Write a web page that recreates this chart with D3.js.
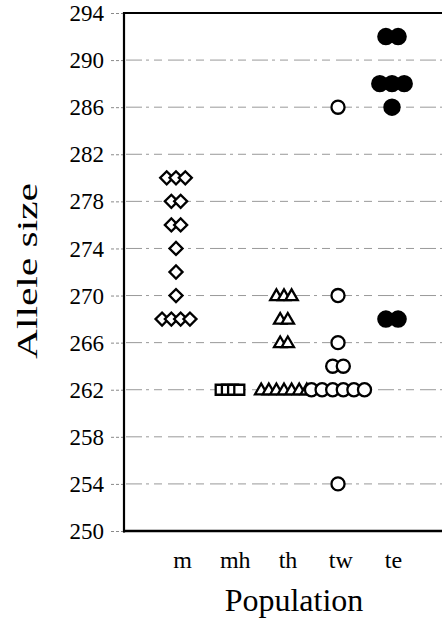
<!DOCTYPE html>
<html>
<head>
<meta charset="utf-8">
<script src="https://cdn.jsdelivr.net/npm/d3@7"></script>
<style>
  html, body { margin: 0; padding: 0; background: #fff; }
  svg { display: block; }
</style>
</head>
<body>
<svg id="chart" width="442" height="618"></svg>
<script>
// ---- data ----
const populations = ["m", "mh", "th", "tw", "te"];
const yTicks = [250, 254, 258, 262, 266, 270, 274, 278, 282, 286, 290, 294];
const gridValues = [254, 258, 262, 266, 270, 274, 278, 282, 286, 290];
const alleles_m  = [280, 280, 280, 278, 278, 276, 276, 274, 272, 270, 268, 268, 268, 268];
const alleles_mh = [262, 262, 262, 262];
const alleles_th = [270, 270, 270, 268, 268, 266, 266, 262, 262, 262, 262, 262, 262, 262];
const alleles_tw = [286, 270, 266, 264, 264, 262, 262, 262, 262, 262, 262, 254];
const alleles_te = [292, 292, 288, 288, 288, 286, 268, 268];
const seriesValues = [alleles_m, alleles_mh, alleles_th, alleles_tw, alleles_te];

// ---- styles ----
const FONT = "Liberation Serif, Times New Roman, serif";
const symStyle = {
  m:  { type: "diamond",  size: 85,  spacing: 9.3, fill: "#fff" },
  mh: { type: "square",   size: 100, spacing: 6.2, fill: "#fff" },
  th: { type: "triangle", size: 66,  spacing: 7.6, fill: "#fff" },
  tw: { type: "circle",   size: 135, spacing: 10.6, fill: "#fff" },
  te: { type: "circle",   size: 180, spacing: 12.2, fill: "#000" }
};

const svg = d3.select("#chart");
const W = 442, H = 618;
const pLeft = 124, pTop = 13, pBottom = 531;

const y = d3.scaleLinear().domain([250, 294]).range([pBottom, pTop]);
const xMark = d3.scalePoint().domain(populations).range([176, 392]);
const xLabel = d3.scalePoint().domain(populations).range([182, 393]);

svg.append("rect").attr("width", W).attr("height", H).attr("fill", "#fff");

// gridlines
svg.append("g").selectAll("line").data(gridValues).join("line")
  .attr("x1", pLeft + 2).attr("x2", W)
  .attr("y1", d => y(d)).attr("y2", d => y(d))
  .attr("stroke", "#999").attr("stroke-width", 1)
  .attr("stroke-dasharray", "16 4 3 5 8 6");

// y axis
const yAxis = svg.append("g").attr("transform", `translate(${pLeft},0)`)
  .call(d3.axisLeft(y).tickValues(yTicks).tickSize(14).tickPadding(6).tickFormat(d3.format("d")));
yAxis.select(".domain").remove();
yAxis.selectAll(".tick line").attr("stroke", "#8a8a8a").attr("stroke-dasharray", "3 2");
yAxis.selectAll(".tick text")
  .style("font-family", FONT).attr("font-size", 23).attr("fill", "#000").attr("dy", "0.33em");

// x axis labels
const xAxis = svg.append("g").attr("transform", `translate(0,${pBottom})`)
  .call(d3.axisBottom(xLabel).tickSize(0));
xAxis.select(".domain").remove();
xAxis.selectAll(".tick text")
  .style("font-family", FONT).attr("font-size", 24).attr("fill", "#000")
  .attr("y", 37).attr("dy", 0);

// frame lines
svg.append("line").attr("x1", pLeft).attr("x2", pLeft).attr("y1", pTop - 1).attr("y2", pBottom + 1.5)
  .attr("stroke", "#000").attr("stroke-width", 2.2);
svg.append("line").attr("x1", pLeft - 1).attr("x2", W).attr("y1", pTop).attr("y2", pTop)
  .attr("stroke", "#000").attr("stroke-width", 2);
svg.append("line").attr("x1", pLeft - 1).attr("x2", W).attr("y1", pBottom).attr("y2", pBottom)
  .attr("stroke", "#000").attr("stroke-width", 2.5);

// markers
const symTypes = {
  diamond: d3.symbolSquare,
  square: d3.symbolSquare,
  triangle: d3.symbolTriangle,
  circle: d3.symbolCircle
};
const points = [];
populations.forEach((p, pi) => {
  const vals = seriesValues[pi];
  const groups = d3.rollup(vals, v => v.length, v => v);
  const st = symStyle[p];
  groups.forEach((n, val) => {
    for (let i = 0; i < n; i++) {
      points.push({ pop: p, value: val, dx: (i - (n - 1) / 2) * st.spacing });
    }
  });
});

svg.append("g").selectAll("path").data(points).join("path")
  .attr("d", d => d3.symbol().type(symTypes[symStyle[d.pop].type]).size(symStyle[d.pop].size)())
  .attr("transform", d => {
    const st = symStyle[d.pop];
    let t = `translate(${xMark(d.pop) + d.dx},${y(d.value) + (st.type === "triangle" ? 1 : 0)})`;
    if (st.type === "diamond") t += " rotate(45)";
    return t;
  })
  .attr("fill", d => symStyle[d.pop].fill)
  .attr("stroke", "#000")
  .attr("stroke-width", 2.3)
  .attr("stroke-linejoin", "miter");

// axis titles
svg.append("text")
  .attr("transform", "translate(37,271) rotate(-90)")
  .attr("text-anchor", "middle")
  .style("font-family", FONT).attr("font-size", 29)
  .attr("textLength", 176).attr("lengthAdjust", "spacingAndGlyphs")
  .text("Allele size");

svg.append("text")
  .attr("x", 294).attr("y", 611)
  .attr("text-anchor", "middle")
  .style("font-family", FONT).attr("font-size", 32)
  .text("Population");
</script>
</body>
</html>
